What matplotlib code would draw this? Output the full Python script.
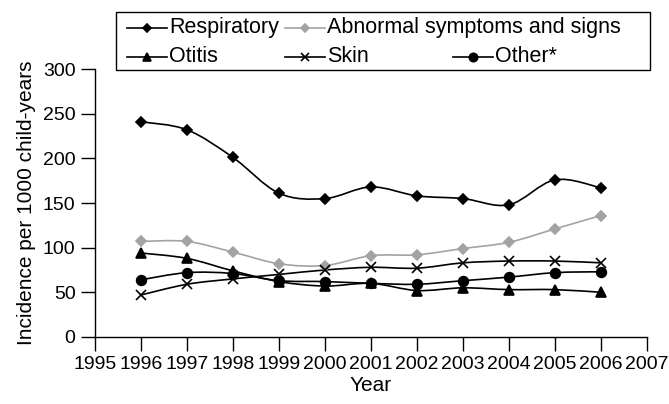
import matplotlib.pyplot as plt
from matplotlib.path import Path
from matplotlib.patches import PathPatch, Rectangle
from matplotlib.lines import Line2D

plt.rcParams['font.family'] = ['Liberation Sans', 'DejaVu Sans']

years = [1996, 1997, 1998, 1999, 2000, 2001, 2002, 2003, 2004, 2005, 2006]
respiratory = [241, 232, 201, 161, 155, 168, 158, 155, 148, 176, 167]
abnormal = [107, 107, 95, 82, 80, 91, 92, 99, 106, 121, 136]
otitis = [94, 88, 74, 62, 57, 60, 52, 55, 53, 53, 50]
skin = [47, 59, 65, 70, 75, 78, 77, 83, 85, 85, 83]
other = [64, 72, 71, 63, 62, 60, 59, 63, 67, 72, 73]

GRAY = '#a3a3a3'
series = [
    ("Respiratory", respiratory, 'D', 'black', 5.5),
    ("Abnormal symptoms and signs", abnormal, 'D', GRAY, 5.5),
    ("Otitis", otitis, '^', 'black', 7),
    ("Skin", skin, 'x', 'black', 6.5),
    ("Other*", other, 'o', 'black', 7),
]


def smooth_path(x, y):
    # Catmull-Rom spline turned into cubic bezier segments (like Excel's smoothed line)
    verts = [(x[0], y[0])]
    codes = [Path.MOVETO]
    n = len(x)
    for i in range(n - 1):
        x0, y0 = (x[i - 1], y[i - 1]) if i > 0 else (x[i], y[i])
        x1, y1 = x[i], y[i]
        x2, y2 = x[i + 1], y[i + 1]
        x3, y3 = (x[i + 2], y[i + 2]) if i + 2 < n else (x2, y2)
        c1 = (x1 + (x2 - x0) / 6, y1 + (y2 - y0) / 6)
        c2 = (x2 - (x3 - x1) / 6, y2 - (y3 - y1) / 6)
        verts += [c1, c2, (x2, y2)]
        codes += [Path.CURVE4] * 3
    return Path(verts, codes)


fig = plt.figure(figsize=(6.69, 4.04), dpi=100)
ax = fig.add_axes([0.142, 0.166, 0.825, 0.663])

for label, vals, mk, col, ms in series:
    ax.add_patch(PathPatch(smooth_path(years, vals), facecolor='none',
                           edgecolor=col, lw=1.2, zorder=2))
    ax.plot(years, vals, linestyle='none', marker=mk, color=col, ms=ms,
            mew=1.2, zorder=3, clip_on=False)

ax.set_xlim(1995, 2007)
ax.set_ylim(0, 300)
ax.set_xticks(range(1995, 2008))
ax.set_yticks(range(0, 301, 50))
ax.spines['top'].set_visible(False)
ax.spines['right'].set_visible(False)
for s in ('left', 'bottom'):
    ax.spines[s].set_linewidth(1.0)
ax.tick_params(direction='out', length=10, width=1.0, labelsize=14, pad=4)
ax.set_xlabel("Year", fontsize=15, labelpad=2)
ax.set_ylabel("Incidence per 1000 child-years", fontsize=15, labelpad=5)

# legend drawn by hand to get the two uneven rows of the original
W, H = 669.0, 404.0
fig.add_artist(Rectangle((116 / W, 1 - 70 / H), 534 / W, 58 / H, transform=fig.transFigure,
                         facecolor='white', edgecolor='black', lw=1.0))
entries = [(0, 127, 28), (1, 285, 28), (2, 127, 57), (3, 285, 57), (4, 453, 57)]
for idx, px, py in entries:
    label, vals, mk, col, ms = series[idx]
    yf = 1 - py / H
    fig.add_artist(Line2D([px / W, (px + 40) / W], [yf, yf], transform=fig.transFigure,
                          color=col, lw=1.2))
    fig.add_artist(Line2D([(px + 20) / W], [yf], transform=fig.transFigure, color=col,
                          marker=mk, ms=ms - 1, mew=1.2, linestyle='none'))
    fig.text((px + 42) / W, yf, label, transform=fig.transFigure, fontsize=15.5,
             va='center', ha='left')

fig.savefig("out.png", dpi=100)
